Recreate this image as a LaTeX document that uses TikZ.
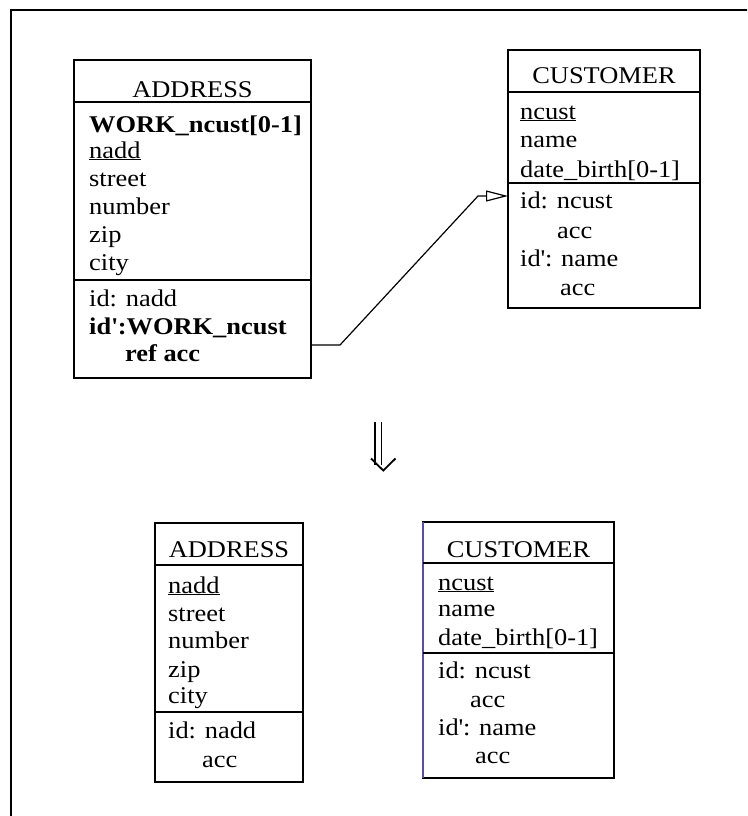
\documentclass[tikz,border=0pt]{standalone}
\usepackage{fontspec}
\setmainfont{Liberation Serif}[FakeStretch=1.1]
\usetikzlibrary{arrows.meta}
\begin{document}
\begin{tikzpicture}[x=1pt,y=-1pt,
  box/.style={draw, line width=1.3pt, inner sep=0pt, outer sep=0pt, anchor=north west},
  sepline/.style={line width=1.3pt},
  attr/.style={anchor=base west, inner sep=0pt, font=\fontsize{24}{28}\selectfont},
  ttl/.style={anchor=base, inner sep=0pt, font=\fontsize{24}{28}\selectfont},
  conn/.style={line width=1.2pt, -{Triangle[open, length=22pt, width=11pt, line width=1.2pt]}},
  framebox/.style={line width=1.6pt},
  shaft/.style={line width=1.8pt}]
\useasboundingbox (0,0) rectangle (747,816);
\clip (0,0) rectangle (747,816);
\fill[white] (0,0) rectangle (747,816);
\draw[framebox] (11,10) rectangle (800,860);

% ---------- upper schema ----------
% ADDRESS with the foreign key WORK_ncust
\node[box, minimum width=237pt, minimum height=318pt] (addrA) at (74,60) {};
\draw[sepline] (addrA.west |- 0,102) -- (addrA.east |- 0,102);
\draw[sepline] (addrA.west |- 0,280) -- (addrA.east |- 0,280);
\node[ttl] (addrAt) at (addrA.north |- 0,97) {ADDRESS};
\node[attr] (addrA1) at (89,132) {\textbf{WORK\_ncust[0-1]}};
\node[attr] (addrA2) at (89,158) {\underline{nadd}};
\node[attr] (addrA3) at (89,186) {street};
\node[attr] (addrA4) at (89,214) {number};
\node[attr] (addrA5) at (89,242) {zip};
\node[attr] (addrA6) at (89,270) {city};
\node[attr] (addrA7) at (89,306) {id: nadd};
\node[attr] (addrA8) at (89,334) {\textbf{id\textquotesingle:WORK\_ncust}};
\node[attr] (addrA9) at (125,361) {\textbf{ref acc}};

% CUSTOMER
\node[box, minimum width=192pt, minimum height=258pt] (custA) at (508,50) {};
\draw[sepline] (custA.west |- 0,92) -- (custA.east |- 0,92);
\draw[sepline] (custA.west |- 0,183) -- (custA.east |- 0,183);
\node[ttl] (custAt) at (custA.north |- 0,84) {CUSTOMER};
\node[attr] (custA1) at (520,119) {\underline{ncust}};
\node[attr] (custA2) at (520,147) {name};
\node[attr] (custA3) at (520,177) {date\_birth[0-1]};
\node[attr] (custA4) at (520,208) {id: ncust};
\node[attr] (custA5) at (557,238) {acc};
\node[attr] (custA6) at (520,266) {id\textquotesingle: name};
\node[attr] (custA7) at (560,295) {acc};

% reference from WORK_ncust to the identifier of CUSTOMER
\coordinate (bend) at (478,196);
\draw[conn] ([yshift=33pt]addrA.south east) -- ++(29,0) -- (bend)
  -- ([yshift=-146pt]custA.north west);

% ---------- transformation arrow ----------
\draw[shaft] (375,422) -- (375,465);
\draw[shaft] (381.5,422) -- (381.5,465);
\draw[shaft, line join=miter] (371,458.5) -- (383.3,470.5) -- (395.5,458.5);

% ---------- lower schema ----------
% ADDRESS
\node[box, minimum width=148pt, minimum height=259pt] (addrB) at (155,523) {};
\draw[sepline] (addrB.west |- 0,565) -- (addrB.east |- 0,565);
\draw[sepline] (addrB.west |- 0,712) -- (addrB.east |- 0,712);
\node[ttl] (addrBt) at (addrB.north |- 0,557) {ADDRESS};
\node[attr] (addrB1) at (168,593) {\underline{nadd}};
\node[attr] (addrB2) at (168,621) {street};
\node[attr] (addrB3) at (168,648) {number};
\node[attr] (addrB4) at (168,677) {zip};
\node[attr] (addrB5) at (168,703) {city};
\node[attr] (addrB6) at (168,738) {id: nadd};
\node[attr] (addrB7) at (202,767) {acc};

% CUSTOMER
\node[box, minimum width=191pt, minimum height=256pt] (custB) at (423,522) {};
\draw[line width=1.3pt, color={rgb,255:red,88;green,78;blue,168}] (custB.north west) -- (custB.south west);
\draw[sepline] (custB.west |- 0,563) -- (custB.east |- 0,563);
\draw[sepline] (custB.west |- 0,653) -- (custB.east |- 0,653);
\node[ttl] (custBt) at (custB.north |- 0,557) {CUSTOMER};
\node[attr] (custB1) at (438,590) {\underline{ncust}};
\node[attr] (custB2) at (438,616) {name};
\node[attr] (custB3) at (438,645) {date\_birth[0-1]};
\node[attr] (custB4) at (438,678) {id: ncust};
\node[attr] (custB5) at (470,707) {acc};
\node[attr] (custB6) at (438,735) {id\textquotesingle: name};
\node[attr] (custB7) at (475,763) {acc};
\end{tikzpicture}
\end{document}
